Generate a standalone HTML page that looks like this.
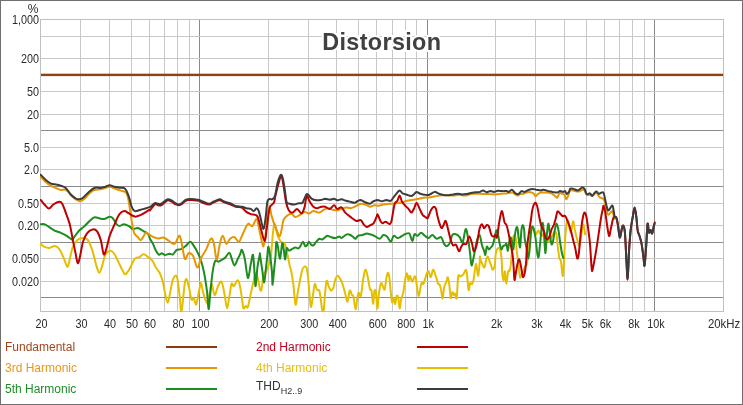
<!DOCTYPE html>
<html><head><meta charset="utf-8"><style>
html,body{margin:0;padding:0;background:#fff;width:743px;height:405px;overflow:hidden}
svg text{font-family:"Liberation Sans",sans-serif}
</style></head><body>
<svg width="743" height="405" viewBox="0 0 743 405" style="position:absolute;left:0;top:0">
<rect x="80" y="19" width="1" height="292" fill="#c8c8c8"/>
<rect x="109" y="19" width="1" height="292" fill="#c8c8c8"/>
<rect x="131" y="19" width="1" height="292" fill="#c8c8c8"/>
<rect x="149" y="19" width="1" height="292" fill="#c8c8c8"/>
<rect x="164" y="19" width="1" height="292" fill="#c8c8c8"/>
<rect x="177" y="19" width="1" height="292" fill="#c8c8c8"/>
<rect x="189" y="19" width="1" height="292" fill="#c8c8c8"/>
<rect x="199" y="19" width="1" height="292" fill="#8a8a8a"/>
<rect x="268" y="19" width="1" height="292" fill="#c8c8c8"/>
<rect x="308" y="19" width="1" height="292" fill="#c8c8c8"/>
<rect x="336" y="19" width="1" height="292" fill="#c8c8c8"/>
<rect x="358" y="19" width="1" height="292" fill="#c8c8c8"/>
<rect x="376" y="19" width="1" height="292" fill="#c8c8c8"/>
<rect x="392" y="19" width="1" height="292" fill="#c8c8c8"/>
<rect x="405" y="19" width="1" height="292" fill="#c8c8c8"/>
<rect x="416" y="19" width="1" height="292" fill="#c8c8c8"/>
<rect x="427" y="19" width="1" height="292" fill="#8a8a8a"/>
<rect x="495" y="19" width="1" height="292" fill="#c8c8c8"/>
<rect x="535" y="19" width="1" height="292" fill="#c8c8c8"/>
<rect x="564" y="19" width="1" height="292" fill="#c8c8c8"/>
<rect x="586" y="19" width="1" height="292" fill="#c8c8c8"/>
<rect x="604" y="19" width="1" height="292" fill="#c8c8c8"/>
<rect x="619" y="19" width="1" height="292" fill="#c8c8c8"/>
<rect x="632" y="19" width="1" height="292" fill="#c8c8c8"/>
<rect x="644" y="19" width="1" height="292" fill="#c8c8c8"/>
<rect x="654" y="19" width="1" height="292" fill="#8a8a8a"/>
<rect x="40" y="19" width="683" height="1" fill="#c8c8c8"/>
<rect x="40" y="36" width="683" height="1" fill="#c8c8c8"/>
<rect x="40" y="58" width="683" height="1" fill="#c8c8c8"/>
<rect x="40" y="75" width="683" height="1" fill="#8a8a8a"/>
<rect x="40" y="91" width="683" height="1" fill="#c8c8c8"/>
<rect x="40" y="114" width="683" height="1" fill="#c8c8c8"/>
<rect x="40" y="130" width="683" height="1" fill="#8a8a8a"/>
<rect x="40" y="147" width="683" height="1" fill="#c8c8c8"/>
<rect x="40" y="169" width="683" height="1" fill="#c8c8c8"/>
<rect x="40" y="186" width="683" height="1" fill="#8a8a8a"/>
<rect x="40" y="203" width="683" height="1" fill="#c8c8c8"/>
<rect x="40" y="225" width="683" height="1" fill="#c8c8c8"/>
<rect x="40" y="242" width="683" height="1" fill="#8a8a8a"/>
<rect x="40" y="258" width="683" height="1" fill="#c8c8c8"/>
<rect x="40" y="281" width="683" height="1" fill="#c8c8c8"/>
<rect x="40" y="297" width="683" height="1" fill="#8a8a8a"/>
<rect x="40" y="19" width="684" height="1" fill="#c0c0c0"/>
<rect x="40" y="311" width="684" height="1" fill="#c0c0c0"/>
<rect x="40" y="19" width="1" height="293" fill="#c0c0c0"/>
<rect x="723" y="19" width="1" height="293" fill="#c0c0c0"/>
<defs><clipPath id="pc"><rect x="40" y="19" width="684" height="293"/></clipPath></defs>
<g fill="none" stroke-linejoin="round" stroke-linecap="round" clip-path="url(#pc)">
<path d="M40.7,243.9C41.4,244.4 43.0,246.2 44.4,246.9C45.9,247.5 47.9,248.0 49.6,247.9C51.4,247.8 53.2,245.9 54.8,246.1C56.4,246.3 57.8,247.1 59.3,249.1C60.8,251.1 62.4,255.0 63.7,258.0C65.1,261.0 66.4,266.6 67.4,266.9C68.4,267.1 68.8,262.7 69.7,259.5C70.5,256.3 71.4,250.8 72.6,247.6C73.9,244.4 75.3,241.8 77.1,240.2C78.8,238.6 81.3,238.1 83.0,238.0C84.7,237.9 86.0,237.6 87.4,239.5C88.9,241.3 90.4,244.8 91.9,249.1C93.4,253.4 95.1,261.5 96.3,265.4C97.6,269.4 98.3,272.8 99.3,272.8C100.3,272.8 101.3,268.4 102.3,265.4C103.3,262.4 104.0,257.5 105.2,255.0C106.5,252.6 108.2,251.1 109.7,250.9C111.2,250.6 112.6,251.6 114.1,253.5C115.6,255.5 117.1,259.5 118.6,262.4C120.1,265.4 121.9,269.4 123.0,271.3C124.1,273.3 124.3,274.6 125.2,274.3C126.2,274.1 127.3,272.4 129.0,269.9C130.6,267.3 133.2,260.8 134.9,258.7C136.6,256.6 137.9,258.0 139.3,257.3C140.8,256.5 142.0,254.0 143.8,254.3C145.6,254.5 149.0,258.1 150.0,258.7C151.0,259.3 149.5,257.5 150.0,258.0C150.5,258.5 152.0,260.1 153.0,261.7C154.0,263.3 154.8,265.7 155.9,267.6C157.0,269.5 158.5,270.6 159.6,272.8C160.7,275.0 161.7,277.7 162.6,280.9C163.5,284.2 164.0,288.5 164.8,292.1C165.6,295.6 166.6,302.2 167.5,302.4C168.4,302.7 169.2,297.0 170.0,293.5C170.8,290.1 171.4,284.7 172.2,281.7C173.1,278.7 174.3,276.3 175.2,275.8C176.1,275.3 176.7,275.3 177.4,278.7C178.2,282.2 179.0,291.1 179.7,296.5C180.3,301.9 180.6,310.1 181.1,311.3C181.6,312.6 182.0,308.6 182.6,303.9C183.2,299.2 184.1,287.2 184.8,283.2C185.5,279.1 186.0,278.5 186.8,279.5C187.5,280.5 188.5,285.8 189.3,289.1C190.1,292.4 190.8,298.0 191.5,299.5C192.3,301.0 193.0,297.1 193.7,298.0C194.5,298.9 195.3,304.4 196.0,304.7C196.6,304.9 196.8,302.3 197.4,299.5C198.1,296.6 199.0,290.3 199.7,287.6C200.3,284.9 200.5,282.2 201.1,283.2C201.8,284.2 202.4,290.2 203.4,293.5C204.4,296.9 206.1,302.9 207.1,303.2C208.1,303.4 208.6,298.4 209.3,295.0C210.0,291.7 210.7,283.2 211.5,283.2C212.4,283.2 213.5,294.3 214.5,295.0C215.5,295.8 216.5,289.8 217.5,287.6C218.4,285.4 219.6,282.2 220.4,281.7C221.3,281.2 221.9,282.2 222.6,284.7C223.4,287.1 224.1,292.6 224.9,296.5C225.6,300.5 226.4,308.4 227.1,308.4C227.8,308.4 228.6,300.6 229.3,296.5C230.1,292.4 230.8,285.6 231.5,283.9C232.3,282.2 232.8,286.8 233.8,286.1C234.8,285.5 236.5,280.5 237.5,280.2C238.5,280.0 239.0,281.7 239.7,284.7C240.4,287.6 241.3,294.0 241.9,298.0C242.5,301.9 242.8,307.0 243.4,308.4C244.0,309.7 244.9,306.4 245.6,306.1C246.4,305.9 247.0,309.0 247.9,306.9C248.7,304.8 249.8,298.0 250.8,293.5C251.8,289.1 252.9,283.7 253.8,280.2C254.6,276.7 255.3,272.8 256.0,272.8C256.7,272.8 257.6,277.5 258.2,280.2C258.9,282.9 259.5,287.5 260.0,289.1C260.5,290.7 261.0,291.6 261.5,289.8C262.0,288.1 262.5,281.6 263.0,278.7C263.5,275.9 264.0,273.9 264.4,272.8C264.9,271.7 265.3,273.0 265.9,272.0C266.5,271.1 267.5,268.7 268.2,266.9C268.8,265.0 269.1,262.9 269.6,260.9C270.1,259.0 270.8,256.8 271.1,255.0C271.4,253.2 271.0,255.2 271.5,250.0C272.0,244.9 273.2,226.6 274.2,224.2C275.2,221.8 276.4,232.7 277.6,235.8C278.9,238.8 280.4,241.1 281.7,242.6C283.0,244.0 283.9,240.8 285.2,244.7C286.5,248.5 288.7,261.1 289.7,265.4C290.6,269.7 290.5,267.4 291.1,270.6C291.8,273.8 292.6,279.0 293.4,284.7C294.1,290.3 294.8,303.4 295.6,304.7C296.3,305.9 297.1,296.1 297.8,292.1C298.5,288.0 299.3,283.9 300.0,280.2C300.8,276.5 301.5,272.1 302.3,269.8C303.0,267.6 303.7,266.8 304.5,266.6C305.2,266.3 306.1,266.3 306.7,268.3C307.3,270.4 307.7,274.0 308.2,278.7C308.7,283.4 309.2,291.8 309.7,296.5C310.2,301.2 310.5,307.6 311.1,306.9C311.8,306.1 312.8,295.9 313.4,292.1C314.0,288.2 314.2,284.3 314.9,283.9C315.5,283.5 316.3,288.7 317.1,289.8C317.8,291.0 318.7,289.0 319.3,290.6C319.9,292.2 320.3,296.1 320.8,299.5C321.3,302.8 321.8,308.9 322.3,310.6C322.8,312.3 323.3,312.9 323.8,309.9C324.2,306.8 324.7,296.9 325.2,292.1C325.7,287.2 326.1,281.8 326.7,280.9C327.3,280.1 328.2,285.3 328.9,286.9C329.7,288.5 330.4,290.5 331.2,290.6C331.9,290.7 332.6,289.6 333.4,287.6C334.1,285.6 334.9,280.7 335.6,278.7C336.4,276.7 337.1,275.8 337.8,275.8C338.6,275.8 339.3,277.5 340.1,278.7C340.8,280.0 341.4,280.7 342.3,283.2C343.1,285.6 344.4,290.5 345.2,293.5C346.1,296.6 346.7,302.2 347.5,301.7C348.2,301.2 349.0,291.7 349.7,290.6C350.4,289.5 351.3,294.0 351.9,295.0C352.5,296.0 352.8,294.2 353.4,296.5C354.0,298.9 355.0,308.6 355.6,309.1C356.2,309.6 356.6,302.2 357.1,299.5C357.6,296.8 358.0,293.4 358.6,292.8C359.2,292.2 360.1,297.9 360.8,295.8C361.6,293.7 362.3,284.5 363.0,280.2C363.8,275.9 364.5,270.6 365.3,269.8C366.0,269.1 366.7,272.5 367.5,275.8C368.3,279.0 369.3,286.6 370.0,289.1C370.7,291.6 371.0,288.1 371.5,290.6C372.0,293.1 372.5,303.8 373.0,303.9C373.5,304.0 374.0,293.3 374.4,291.3C374.9,289.3 375.4,289.2 375.9,292.1C376.4,294.9 376.9,308.1 377.4,308.4C377.9,308.6 378.3,297.7 378.9,293.5C379.5,289.3 380.4,284.2 381.1,283.2C381.9,282.2 382.7,286.6 383.3,287.6C384.0,288.6 384.3,290.6 384.8,289.1C385.3,287.6 385.8,281.4 386.3,278.7C386.8,276.0 387.3,273.0 387.8,272.8C388.3,272.5 388.8,274.0 389.3,277.2C389.8,280.5 390.3,287.9 390.8,292.1C391.3,296.3 391.7,301.5 392.2,302.4C392.7,303.4 393.2,297.7 393.7,298.0C394.2,298.2 394.7,304.3 395.2,303.9C395.7,303.6 396.2,296.8 396.7,295.8C397.2,294.8 397.7,295.9 398.2,298.0C398.7,300.1 399.2,308.1 399.7,308.4C400.1,308.6 400.5,302.2 401.1,299.5C401.8,296.8 402.6,295.8 403.4,292.1C404.1,288.4 405.0,280.3 405.6,277.2C406.2,274.1 406.6,273.0 407.1,273.5C407.6,274.0 408.1,279.8 408.5,280.2C409.0,280.6 409.4,275.5 410.0,275.8C410.6,276.0 411.5,281.6 412.3,281.7C413.0,281.8 413.9,277.0 414.5,276.5C415.1,276.0 415.5,276.4 416.0,278.7C416.5,281.1 416.9,287.7 417.4,290.6C417.9,293.4 418.4,296.3 418.9,295.8C419.4,295.3 419.9,289.8 420.4,287.6C420.9,285.4 421.4,283.0 421.9,282.4C422.4,281.8 422.8,284.8 423.4,283.9C424.0,283.0 425.0,279.1 425.6,277.2C426.2,275.4 426.6,273.8 427.1,272.8C427.6,271.8 427.9,270.6 428.6,271.3C429.2,272.0 430.0,277.5 430.8,277.2C431.5,277.0 432.3,270.3 433.0,269.8C433.8,269.3 434.4,271.9 435.2,274.3C436.1,276.6 437.5,282.2 438.2,283.9C438.9,285.6 439.2,283.5 439.7,284.7C440.2,285.8 440.7,288.2 441.2,290.6C441.7,292.9 442.2,299.2 442.6,298.7C443.1,298.2 443.5,290.5 444.1,287.6C444.7,284.8 445.7,283.4 446.4,281.7C447.0,280.0 447.3,276.7 447.8,277.2C448.3,277.7 448.8,281.2 449.3,284.7C449.8,288.1 450.3,296.8 450.8,298.0C451.3,299.2 451.8,292.6 452.3,292.1C452.8,291.6 453.3,294.8 453.8,295.0C454.3,295.3 454.8,293.1 455.2,293.5C455.7,294.0 456.2,300.8 456.7,298.0C457.2,295.2 457.6,280.1 458.2,276.5C458.8,272.9 459.6,276.9 460.4,276.5C461.3,276.1 462.4,275.3 463.4,274.3C464.4,273.3 465.5,268.0 466.4,270.6C467.2,273.2 468.0,287.7 468.6,289.8C469.2,291.9 469.5,284.2 470.1,283.2C470.7,282.2 471.7,284.7 472.3,283.9C472.9,283.2 473.2,282.1 473.8,278.7C474.4,275.4 475.3,264.4 476.0,263.9C476.7,263.4 477.6,276.7 478.2,275.8C478.9,274.8 479.7,260.9 480.0,258.0C480.3,255.0 479.6,257.0 480.0,258.0C480.4,259.0 481.5,262.3 482.2,263.9C482.9,265.5 483.8,268.1 484.4,267.6C485.0,267.1 485.4,262.8 485.9,260.9C486.4,259.0 486.9,256.8 487.4,256.5C487.9,256.2 488.3,257.9 488.9,259.4C489.5,260.9 490.5,263.7 491.1,265.4C491.7,267.1 492.0,269.8 492.6,269.8C493.2,269.8 494.3,267.9 494.8,265.4C495.3,262.9 495.2,257.5 495.6,254.8C496.0,252.1 496.4,250.5 497.0,249.4C497.6,248.3 498.4,247.8 499.0,248.0C499.6,248.2 499.9,248.8 500.4,250.8C500.8,252.9 501.4,256.6 501.7,260.3C502.0,264.0 501.9,269.5 502.2,272.8C502.5,276.1 503.2,280.4 503.7,280.2C504.1,279.9 504.4,270.7 504.9,271.3C505.3,271.9 505.8,283.9 506.4,283.9C506.9,283.9 507.6,273.5 508.2,271.3C508.8,269.1 509.2,272.1 509.7,270.6C510.2,269.1 510.6,267.5 511.1,262.4C511.6,257.3 512.0,244.4 512.6,239.9C513.2,235.4 514.0,235.1 514.6,235.1C515.2,235.1 515.6,237.3 516.0,239.9C516.4,242.5 516.3,246.8 516.7,250.8C517.1,254.8 518.0,259.5 518.5,263.9C519.0,268.3 519.5,275.5 520.0,277.2C520.5,278.9 520.9,275.5 521.5,274.3C522.1,273.1 522.8,271.4 523.5,270.0C524.2,268.6 524.9,267.1 525.5,266.0C526.1,264.9 526.4,265.8 526.9,263.7C527.4,261.6 527.6,257.9 528.2,253.5C528.8,249.1 529.7,241.7 530.3,237.2C530.9,232.7 531.1,227.7 531.6,226.3C532.1,224.9 532.6,228.1 533.0,229.0C533.4,229.9 533.6,230.8 534.1,231.7C534.6,232.6 535.4,234.7 536.1,234.5C536.8,234.3 537.5,230.5 538.2,230.4C538.9,230.3 539.5,232.9 540.2,233.8C540.9,234.7 541.5,236.0 542.2,235.8C542.9,235.6 543.6,232.4 544.3,232.4C545.0,232.4 545.6,234.3 546.3,235.8C547.0,237.3 547.6,240.9 548.3,241.3C549.0,241.8 549.7,239.4 550.4,238.5C551.1,237.6 551.7,236.9 552.4,235.8C553.1,234.7 553.8,231.9 554.5,231.7C555.2,231.5 556.0,231.9 556.5,234.5C557.0,237.1 557.3,243.1 557.8,247.1C558.3,251.1 558.9,255.9 559.4,258.3C559.9,260.7 560.5,258.6 561.0,261.5C561.5,264.4 562.2,275.7 562.7,276.0C563.2,276.3 563.5,269.3 563.9,263.2C564.3,257.1 564.6,245.8 565.1,239.1C565.6,232.4 566.2,225.9 566.7,223.0C567.2,220.1 567.6,219.8 568.3,221.4C569.0,223.0 569.9,232.7 570.7,232.7C571.5,232.7 572.4,221.9 573.1,221.4C573.8,220.9 574.0,226.5 574.7,229.4C575.4,232.3 576.3,236.4 577.1,239.1C577.9,241.8 578.7,246.8 579.5,245.5C580.3,244.2 581.2,234.5 581.9,231.0C582.6,227.5 583.0,224.0 583.5,224.6C584.0,225.2 584.8,232.7 585.1,234.3" stroke="#e6be00" stroke-width="2"/>
<path d="M40.7,224.2C41.4,224.2 43.1,223.7 44.4,224.2C45.8,224.6 47.3,225.8 48.9,226.9C50.5,227.9 52.1,229.3 54.1,230.3C56.1,231.3 58.7,231.9 60.8,232.8C62.9,233.7 64.8,234.6 66.7,235.8C68.5,236.9 70.6,239.2 71.9,239.5C73.1,239.7 73.0,238.6 74.1,237.2C75.2,235.9 76.8,233.2 78.5,231.3C80.3,229.5 82.5,228.0 84.5,226.1C86.5,224.3 88.7,221.7 90.4,220.2C92.1,218.7 93.1,217.5 94.9,217.2C96.6,217.0 99.1,218.5 100.8,218.7C102.5,219.0 103.8,219.0 105.2,218.7C106.7,218.4 108.4,216.9 109.7,216.8C110.9,216.7 111.5,216.8 112.6,218.0C113.8,219.2 115.2,222.5 116.4,223.9C117.5,225.3 118.1,226.1 119.3,226.1C120.6,226.2 122.2,224.2 123.8,224.2C125.4,224.2 127.5,225.3 129.0,226.1C130.4,226.9 131.2,228.8 132.7,229.1C134.1,229.4 136.0,227.7 137.9,228.0C139.7,228.4 142.1,230.3 143.8,231.3C145.5,232.3 147.2,233.0 148.2,234.3C149.3,235.5 149.2,237.1 150.0,238.7C150.8,240.3 152.0,241.9 153.0,243.9C154.0,245.9 154.9,248.8 155.9,250.6C156.9,252.4 157.9,254.3 158.9,254.7C159.9,255.2 160.9,253.2 161.9,253.3C162.8,253.3 163.6,254.9 164.8,255.0C166.1,255.1 167.9,254.0 169.3,253.8C170.6,253.7 171.7,255.0 173.0,254.3C174.2,253.6 175.3,250.7 176.7,249.8C178.0,249.0 179.7,249.7 181.1,249.1C182.6,248.5 184.1,247.4 185.6,246.1C187.1,244.9 188.8,241.9 190.0,241.7C191.3,241.4 191.8,242.9 193.0,244.7C194.2,246.4 196.1,249.3 197.4,252.1C198.8,254.8 200.0,257.5 201.1,261.0C202.3,264.4 203.1,267.6 204.1,272.8C205.1,278.0 206.3,286.0 207.1,292.1C207.8,298.1 208.1,308.4 208.6,309.1C209.1,309.9 209.4,302.3 210.0,296.5C210.7,290.7 211.4,280.2 212.3,274.3C213.1,268.3 214.2,263.0 215.2,260.9C216.2,258.8 217.0,261.9 218.2,261.7C219.4,261.4 221.4,260.2 222.6,259.4C223.9,258.7 224.5,258.3 225.6,257.2C226.7,256.1 228.3,252.7 229.3,252.8C230.3,252.9 230.7,255.9 231.5,258.0C232.4,260.1 233.5,265.2 234.5,265.4C235.5,265.7 236.5,261.5 237.5,259.5C238.5,257.5 239.7,255.2 240.4,253.5C241.2,251.9 241.2,248.9 241.9,249.8C242.7,250.8 243.9,254.8 244.9,259.5C245.9,264.2 246.9,277.2 247.9,278.0C248.8,278.7 250.0,267.7 250.8,263.9C251.7,260.1 252.4,253.5 253.0,255.0C253.7,256.5 254.1,267.6 254.5,272.8C254.9,278.0 255.1,287.1 255.6,286.1C256.1,285.1 256.8,272.0 257.5,266.9C258.2,261.7 259.3,257.0 259.7,255.0C260.1,253.0 259.6,252.5 260.0,255.0C260.4,257.5 261.5,265.3 262.2,269.8C262.9,274.4 263.5,282.7 264.2,282.4C264.8,282.2 265.4,272.9 265.9,268.3C266.5,263.8 267.0,258.6 267.4,255.0C267.8,251.4 267.8,247.4 268.2,246.9C268.5,246.4 269.0,248.0 269.6,252.1C270.3,256.1 271.4,265.9 271.9,271.3C272.4,276.8 272.2,284.9 272.6,284.7C273.0,284.4 273.6,274.8 274.1,269.8C274.6,264.9 275.2,259.6 275.6,255.0C275.9,250.4 275.9,243.9 276.3,242.4C276.7,241.0 277.2,243.4 277.8,246.1C278.4,248.9 279.3,259.2 280.0,258.7C280.8,258.2 281.6,244.8 282.2,243.2C282.9,241.6 283.2,246.4 283.7,249.1C284.2,251.8 284.7,259.6 285.2,259.5C285.7,259.4 286.1,249.8 286.7,248.4C287.3,246.9 288.0,250.5 288.9,250.6C289.8,250.7 290.8,249.6 291.9,249.1C293.0,248.6 294.5,247.7 295.6,247.6C296.7,247.5 297.7,248.7 298.5,248.4C299.4,248.0 300.0,246.5 300.8,245.4C301.5,244.3 302.3,241.6 303.0,241.7C303.7,241.8 304.5,245.6 305.2,246.1C306.0,246.6 306.8,245.4 307.4,244.7C308.1,243.9 308.3,241.7 308.9,241.7C309.5,241.7 310.4,244.0 311.1,244.7C311.9,245.3 312.5,245.9 313.4,245.4C314.2,244.9 315.3,242.8 316.3,241.7C317.3,240.6 318.3,239.1 319.3,238.7C320.3,238.4 321.3,239.7 322.3,239.5C323.3,239.2 324.4,237.9 325.2,237.2C326.1,236.6 326.5,235.8 327.5,235.8C328.4,235.8 329.8,236.9 331.2,237.2C332.5,237.6 334.3,238.1 335.6,238.0C337.0,237.9 338.3,236.5 339.3,236.5C340.3,236.5 340.7,238.1 341.5,238.0C342.4,237.9 343.5,236.4 344.5,235.8C345.5,235.1 346.5,234.4 347.5,234.3C348.5,234.1 349.4,234.5 350.4,235.0C351.4,235.5 352.5,236.6 353.4,237.2C354.3,237.9 354.9,239.0 355.6,238.7C356.4,238.5 356.7,236.4 357.9,235.8C359.0,235.1 360.8,235.4 362.3,235.0C363.8,234.6 365.5,233.7 366.7,233.5C368.0,233.4 368.7,233.9 370.0,234.3C371.3,234.6 372.8,235.0 374.4,235.8C376.1,236.5 378.2,238.8 379.6,238.7C381.1,238.6 382.1,235.4 383.3,235.0C384.6,234.6 385.8,235.4 387.0,236.5C388.3,237.6 389.6,241.8 390.8,241.7C391.9,241.6 392.6,236.4 393.7,235.8C394.8,235.1 396.2,237.9 397.4,238.0C398.7,238.1 399.9,237.1 401.1,236.5C402.4,235.9 403.5,234.8 404.8,234.3C406.2,233.8 408.1,232.4 409.3,233.5C410.5,234.6 411.4,240.8 412.3,240.9C413.1,241.1 413.6,235.1 414.5,234.3C415.3,233.4 416.3,236.0 417.4,235.8C418.6,235.5 419.9,232.8 421.1,232.8C422.4,232.8 423.6,234.9 424.9,235.8C426.1,236.6 427.3,238.1 428.6,238.0C429.8,237.9 430.9,234.9 432.3,235.0C433.6,235.1 435.2,238.4 436.7,238.7C438.2,239.1 439.9,236.4 441.2,237.2C442.4,238.1 443.1,242.4 444.1,243.9C445.1,245.4 446.1,246.4 447.1,246.1C448.1,245.9 449.2,244.3 450.1,242.4C450.9,240.6 451.3,236.4 452.3,235.0C453.3,233.7 454.8,233.9 456.0,234.3C457.2,234.6 458.6,235.9 459.7,237.2C460.8,238.6 461.7,243.8 462.7,242.4C463.6,241.1 464.8,229.9 465.6,229.1C466.5,228.2 467.1,233.2 467.9,237.2C468.6,241.3 469.5,248.9 470.1,253.5C470.7,258.2 470.9,264.9 471.6,265.4C472.2,265.9 473.0,260.0 473.8,256.5C474.5,253.1 475.3,248.0 476.0,244.7C476.7,241.3 477.6,238.0 478.2,236.5C478.9,235.0 479.4,234.3 480.0,235.8C480.6,237.2 481.3,242.8 482.0,245.3C482.7,247.8 483.5,249.2 484.1,250.8C484.7,252.4 484.9,255.5 485.4,254.8C485.8,254.1 486.2,247.6 486.8,246.7C487.4,245.8 488.1,249.3 488.8,249.4C489.5,249.5 490.2,248.2 490.9,247.4C491.6,246.6 492.2,246.5 492.9,244.6C493.6,242.7 494.4,238.2 495.0,235.8C495.6,233.4 495.9,230.9 496.3,230.4C496.8,229.9 497.2,231.5 497.7,233.1C498.1,234.7 498.6,237.6 499.0,239.9C499.4,242.2 499.9,245.1 500.4,246.7C500.8,248.3 501.2,249.5 501.7,249.4C502.1,249.3 502.5,246.7 503.1,246.0C503.7,245.3 504.5,245.6 505.1,245.3C505.7,245.0 506.0,243.1 506.5,244.0C507.0,244.9 507.4,251.2 507.9,250.8C508.3,250.5 508.8,244.2 509.2,241.9C509.6,239.6 510.2,237.3 510.6,237.2C511.1,237.1 511.4,239.3 511.9,241.3C512.3,243.3 512.8,250.1 513.3,249.4C513.8,248.7 514.1,240.6 514.6,237.2C515.1,233.8 515.5,230.6 516.0,229.0C516.5,227.4 516.9,226.1 517.4,227.7C517.9,229.3 518.2,235.2 518.7,238.5C519.2,241.8 519.7,248.8 520.1,247.4C520.5,246.1 521.0,234.1 521.4,230.4C521.8,226.7 522.3,225.0 522.8,225.0C523.3,225.0 523.9,228.0 524.2,230.4C524.5,232.8 524.3,235.9 524.8,239.2C525.2,242.5 526.3,246.8 526.9,250.0C527.5,253.2 527.8,258.7 528.2,258.7C528.7,258.7 529.1,254.9 529.6,250.0C530.1,245.1 530.8,232.7 531.4,229.0C532.0,225.3 532.7,226.3 533.4,227.7C534.1,229.1 534.7,232.7 535.4,237.2C536.1,241.7 536.9,251.6 537.5,254.8C538.1,258.0 538.3,258.2 538.8,256.2C539.2,254.2 539.6,248.0 540.2,242.6C540.8,237.2 541.6,225.9 542.2,223.6C542.8,221.3 543.2,224.9 543.6,229.0C544.0,233.1 544.6,244.2 544.9,248.0C545.2,251.8 545.2,254.6 545.6,252.1C546.0,249.6 546.5,237.8 547.0,233.1C547.5,228.3 547.8,223.8 548.3,223.6C548.8,223.4 549.2,228.6 549.7,232.0C550.2,235.4 550.9,242.3 551.4,243.9C551.9,245.5 552.5,243.7 553.0,241.5C553.5,239.3 554.0,234.0 554.6,231.0C555.2,228.0 555.9,223.7 556.5,223.6C557.1,223.5 557.9,227.0 558.5,230.4C559.1,233.8 559.8,240.2 560.4,244.0C561.0,247.8 561.5,251.2 562.0,253.5C562.5,255.8 563.1,257.2 563.3,258.0" stroke="#1e8c1e" stroke-width="2"/>
<path d="M40.7,177.0C41.6,177.9 44.2,180.8 45.9,182.2C47.7,183.7 49.4,185.0 51.1,185.9C52.8,186.9 54.7,187.5 56.3,188.2C57.9,188.8 59.3,189.7 60.8,189.9C62.2,190.2 64.0,189.3 65.2,189.7C66.4,190.0 67.2,190.9 68.2,191.9C69.2,192.9 69.9,194.3 71.1,195.6C72.4,196.8 74.1,198.3 75.6,199.3C77.1,200.2 78.5,201.3 80.0,201.2C81.5,201.1 83.0,200.0 84.5,198.8C86.0,197.7 87.4,195.5 88.9,194.1C90.4,192.7 91.6,191.2 93.4,190.4C95.1,189.6 97.6,189.5 99.3,189.2C101.0,188.9 102.0,188.9 103.8,188.5C105.5,188.0 108.0,186.7 109.7,186.7C111.4,186.6 112.4,187.6 114.1,188.2C115.9,188.8 118.2,189.8 120.1,190.4C121.9,191.0 124.0,191.0 125.2,191.9C126.5,192.7 126.9,193.7 127.5,195.6C128.1,197.4 128.5,200.3 129.0,203.0C129.4,205.7 129.9,208.7 130.4,211.9C130.9,215.1 131.3,218.9 131.9,222.4C132.5,225.9 133.2,230.3 134.1,232.8C135.1,235.3 136.7,236.0 137.9,237.2C139.0,238.5 139.8,240.5 140.8,240.2C141.8,240.0 142.9,237.0 143.8,235.8C144.6,234.5 145.0,232.9 146.0,232.8C147.0,232.7 148.7,234.3 150.0,235.0C151.3,235.8 152.3,236.7 153.7,237.2C155.1,237.8 156.5,238.4 158.2,238.4C159.8,238.5 161.6,237.2 163.3,237.5C165.1,237.9 166.9,239.4 168.5,240.5C170.1,241.6 171.7,243.6 173.0,243.9C174.2,244.2 175.0,243.8 175.9,242.4C176.9,241.1 178.0,236.1 178.9,235.8C179.8,235.4 180.1,236.4 181.1,240.2C182.1,244.0 183.6,256.6 184.8,258.7C186.1,260.9 187.2,253.7 188.5,253.3C189.9,252.8 191.5,253.4 193.0,255.8C194.5,258.2 196.1,267.3 197.4,267.6C198.8,268.0 199.7,261.1 201.1,258.0C202.6,254.9 204.7,252.3 206.3,249.1C207.9,245.9 209.6,239.7 210.8,238.7C212.0,237.7 212.8,239.7 213.8,243.2C214.7,246.6 215.7,259.2 216.7,259.5C217.7,259.7 218.7,248.6 219.7,244.7C220.7,240.7 221.5,235.9 222.6,235.8C223.8,235.6 225.1,243.4 226.4,243.9C227.6,244.4 228.7,239.8 230.1,238.7C231.4,237.6 233.0,236.7 234.5,237.2C236.0,237.7 237.6,242.2 239.0,241.7C240.3,241.2 241.2,237.2 242.7,234.3C244.1,231.3 246.2,225.3 247.9,223.9C249.5,222.5 250.8,227.0 252.3,226.1C253.7,225.3 255.5,218.8 256.5,218.8C257.6,218.8 257.9,223.4 258.6,226.2C259.3,229.1 259.8,232.4 260.6,235.8C261.4,239.2 262.5,246.6 263.3,246.6C264.1,246.6 264.7,241.0 265.4,235.8C266.1,230.6 266.7,220.2 267.4,215.4C268.1,210.5 268.8,206.5 269.5,206.5C270.1,206.5 270.8,212.8 271.5,215.4C272.2,218.0 272.7,219.9 273.5,222.2C274.3,224.4 275.2,226.6 276.2,229.0C277.3,231.3 278.7,236.4 279.6,236.4C280.6,236.4 281.0,231.8 281.7,229.0C282.4,226.1 282.6,221.8 283.7,219.5C284.8,217.1 286.8,215.7 288.2,214.9C289.5,214.0 290.6,213.7 291.9,214.1C293.1,214.5 294.2,217.0 295.6,217.1C296.9,217.2 298.5,215.7 300.0,214.9C301.5,214.0 303.0,212.1 304.5,211.9C306.0,211.6 307.4,213.5 308.9,213.4C310.4,213.2 311.6,211.3 313.4,211.1C315.1,211.0 317.6,212.9 319.3,212.6C321.0,212.4 322.3,210.4 323.8,209.7C325.2,208.9 326.7,208.2 328.2,208.2C329.7,208.2 331.2,209.3 332.6,209.7C334.1,210.0 335.6,210.5 337.1,210.4C338.6,210.3 340.1,209.4 341.5,208.9C343.0,208.4 344.5,207.6 346.0,207.4C347.5,207.3 349.0,208.3 350.4,208.2C351.9,208.1 353.2,207.4 354.9,206.7C356.6,206.0 359.1,204.1 360.8,203.7C362.5,203.4 363.7,204.0 365.3,204.5C366.8,205.0 368.5,206.6 370.0,206.7C371.5,206.8 373.0,205.4 374.4,205.2C375.9,205.0 377.4,205.8 378.9,205.7C380.4,205.5 381.9,204.8 383.3,204.5C384.8,204.2 386.3,204.0 387.8,203.9C389.3,203.8 390.5,203.9 392.2,203.7C394.0,203.6 396.4,203.2 398.2,203.0C399.9,202.7 401.1,202.6 402.6,202.3C404.1,201.9 405.3,201.2 407.1,200.8C408.8,200.4 411.0,200.1 413.0,199.7C415.0,199.4 417.2,199.2 418.9,198.8C420.7,198.5 421.6,198.1 423.4,197.8C425.1,197.6 427.3,197.6 429.3,197.4C431.3,197.1 433.3,196.7 435.2,196.3C437.2,196.0 439.2,195.5 441.2,195.3C443.1,195.1 445.1,195.2 447.1,195.3C449.1,195.3 451.0,195.7 453.0,195.6C455.0,195.5 457.0,194.8 459.0,194.8C460.9,194.8 462.9,195.7 464.9,195.6C466.9,195.5 469.1,194.4 470.8,194.1C472.5,193.8 473.7,193.9 475.3,193.8C476.8,193.8 478.5,193.8 480.0,193.8C481.5,193.9 483.0,194.0 484.4,194.1C485.9,194.1 487.2,194.0 488.9,194.1C490.6,194.1 492.8,194.4 494.8,194.4C496.8,194.3 498.8,194.0 500.8,193.8C502.7,193.6 504.7,193.6 506.7,193.4C508.7,193.2 510.9,192.2 512.6,192.6C514.3,193.0 515.8,195.3 517.1,195.6C518.3,195.8 518.8,194.5 520.0,194.1C521.3,193.7 523.0,193.7 524.5,193.4C526.0,193.0 527.4,191.9 528.9,191.9C530.4,191.9 532.3,192.6 533.4,193.4C534.5,194.1 534.9,196.2 535.6,196.3C536.3,196.4 537.0,194.7 537.8,194.1C538.7,193.5 539.6,192.9 540.8,192.6C542.0,192.4 543.5,192.5 545.2,192.6C547.0,192.7 549.7,192.9 551.2,193.4C552.6,193.8 553.1,194.5 554.1,195.3C555.1,196.0 556.2,198.1 557.1,197.8C558.0,197.5 558.6,194.1 559.3,193.4C560.1,192.6 560.7,193.1 561.5,193.4C562.4,193.6 563.7,193.9 564.5,194.8C565.3,195.8 565.7,199.2 566.3,199.3C566.9,199.4 567.5,197.1 568.2,195.6C568.9,194.1 569.3,191.1 570.4,190.4C571.5,189.7 573.4,191.0 574.9,191.1C576.4,191.3 578.1,191.7 579.3,191.4C580.6,191.2 581.4,189.8 582.3,189.7C583.2,189.5 583.8,189.5 584.5,190.4C585.3,191.3 585.8,194.1 586.7,194.8C587.7,195.6 589.1,194.6 590.0,194.8C590.9,195.0 591.5,196.1 592.2,196.0C592.9,195.9 593.8,194.5 594.5,194.0C595.2,193.5 595.9,192.5 596.6,192.8C597.3,193.1 598.1,195.2 598.7,196.0C599.3,196.8 599.5,197.3 600.2,197.7C600.9,198.1 602.0,197.9 602.7,198.5C603.4,199.1 604.0,199.4 604.5,201.0C605.0,202.6 605.4,206.0 605.9,208.1C606.4,210.2 607.0,212.6 607.5,213.7C608.0,214.8 608.4,214.9 609.1,214.5C609.8,214.1 610.9,211.6 611.5,211.3C612.1,211.0 612.5,211.6 613.0,212.9C613.5,214.2 614.0,218.0 614.2,219.0" stroke="#e69600" stroke-width="2"/>
<path d="M40.7,200.0C41.4,200.8 43.1,203.0 44.4,204.5C45.8,205.9 47.4,208.6 48.9,208.6C50.4,208.6 51.6,205.6 53.3,204.5C55.1,203.3 57.8,201.9 59.3,201.8C60.8,201.7 61.3,202.2 62.2,203.7C63.2,205.3 64.0,207.8 65.2,211.1C66.4,214.5 68.4,219.3 69.7,223.9C70.9,228.5 71.6,233.8 72.6,238.7C73.6,243.7 74.7,249.5 75.6,253.5C76.4,257.6 77.1,262.7 77.8,263.2C78.5,263.7 79.2,260.1 80.0,256.5C80.9,252.9 81.8,245.6 83.0,241.7C84.2,237.7 85.8,234.8 87.4,232.8C89.0,230.7 91.0,229.6 92.6,229.4C94.2,229.1 95.7,229.5 97.1,231.3C98.4,233.1 99.7,236.4 100.8,240.2C101.9,244.0 102.8,253.1 103.8,254.3C104.7,255.5 105.7,250.7 106.7,247.6C107.7,244.5 108.4,239.5 109.7,235.8C110.9,232.0 113.0,228.0 114.1,225.4C115.2,222.8 115.4,222.0 116.4,220.0C117.3,218.0 118.7,214.9 120.1,213.4C121.4,211.9 123.0,211.1 124.5,211.1C126.0,211.1 127.2,212.5 129.0,213.4C130.7,214.3 132.9,216.4 134.9,216.6C136.9,216.9 138.3,216.0 140.8,214.9C143.3,213.7 148.2,210.4 149.7,209.7C151.2,208.9 149.6,210.8 150.0,210.4C150.4,210.0 151.4,208.5 152.2,207.4C153.1,206.4 154.2,204.6 155.2,204.2C156.2,203.8 157.2,205.0 158.2,205.2C159.1,205.4 160.1,205.6 161.1,205.2C162.1,204.8 163.0,203.8 164.1,203.0C165.2,202.2 166.6,200.6 167.8,200.3C169.0,200.1 170.3,200.9 171.5,201.5C172.7,202.2 174.0,203.6 175.2,204.2C176.4,204.8 177.8,205.2 178.9,205.2C180.0,205.2 180.8,204.8 181.9,204.0C183.0,203.3 184.2,201.5 185.6,200.8C186.9,200.1 188.5,199.8 190.0,199.7C191.5,199.7 193.0,200.2 194.5,200.3C196.0,200.5 197.4,200.3 198.9,200.8C200.4,201.2 201.6,202.4 203.4,203.0C205.1,203.6 207.6,204.6 209.3,204.5C211.0,204.4 212.0,202.9 213.8,202.3C215.5,201.6 218.0,200.3 219.7,200.3C221.4,200.3 222.4,201.6 224.1,202.3C225.9,202.9 228.1,203.4 230.1,204.2C232.0,204.9 234.0,206.1 236.0,206.7C238.0,207.3 240.2,206.9 241.9,207.7C243.6,208.6 244.9,210.8 246.4,211.9C247.9,213.0 249.1,213.5 250.8,214.1C252.5,214.7 255.3,214.5 256.5,215.4C257.8,216.3 257.8,217.0 258.6,219.5C259.4,221.9 260.3,226.7 261.3,230.3C262.3,233.9 263.8,241.4 264.7,241.2C265.6,241.0 265.9,234.4 266.7,229.0C267.5,223.5 268.6,212.7 269.5,208.6C270.4,204.5 271.4,205.6 272.2,204.5C273.0,203.4 273.6,203.4 274.2,201.8C274.8,200.2 274.7,198.5 275.6,195.0C276.4,191.5 278.3,184.0 279.3,180.8C280.3,177.5 280.8,174.6 281.5,175.6C282.2,176.6 283.0,182.4 283.7,186.7C284.5,191.0 285.1,197.6 285.9,201.5C286.8,205.5 287.8,208.6 288.9,210.4C290.0,212.3 291.3,212.9 292.6,212.6C294.0,212.4 295.6,208.8 297.1,208.9C298.5,209.0 300.3,213.6 301.5,213.4C302.7,213.1 303.6,210.3 304.5,207.4C305.3,204.6 305.8,197.3 306.7,196.3C307.6,195.3 308.6,199.8 309.7,201.5C310.8,203.2 312.1,205.6 313.4,206.7C314.6,207.8 315.7,208.2 317.1,208.2C318.4,208.2 320.2,206.9 321.5,206.7C322.9,206.5 323.9,206.3 325.2,206.7C326.6,207.1 328.2,209.2 329.7,208.9C331.2,208.7 332.9,205.2 334.1,205.2C335.4,205.2 335.9,208.6 337.1,208.9C338.3,209.3 340.2,206.8 341.5,207.4C342.9,208.1 343.5,210.9 345.2,212.6C347.0,214.4 350.1,216.6 351.9,218.0C353.8,219.3 354.9,220.6 356.4,220.9C357.9,221.3 359.6,219.6 360.8,220.2C362.1,220.8 362.8,223.5 363.8,224.6C364.8,225.7 365.7,226.7 366.7,226.9C367.8,227.0 368.8,226.0 370.0,225.4C371.2,224.8 372.6,224.6 373.7,223.2C374.8,221.7 376.0,217.9 376.7,216.5C377.3,215.1 377.1,213.8 377.7,214.6C378.3,215.3 379.6,219.5 380.4,220.9C381.2,222.4 381.7,223.0 382.6,223.2C383.5,223.3 384.5,221.5 385.6,221.7C386.7,221.8 388.3,224.0 389.3,223.9C390.3,223.8 390.6,224.2 391.5,220.9C392.4,217.7 393.5,207.8 394.5,204.5C395.5,201.1 396.6,202.3 397.4,200.8C398.3,199.3 398.9,195.5 399.7,195.6C400.4,195.7 401.0,199.9 401.9,201.5C402.7,203.1 403.7,204.0 404.8,205.2C406.0,206.5 407.4,207.7 408.5,208.9C409.7,210.2 410.5,212.9 411.5,212.6C412.5,212.4 413.6,209.0 414.5,207.4C415.3,205.8 415.8,202.7 416.7,203.0C417.6,203.2 418.7,206.9 419.7,208.9C420.7,210.9 421.6,213.5 422.6,214.9C423.6,216.2 424.7,216.6 425.6,217.1C426.5,217.6 427.0,218.9 427.8,217.8C428.7,216.7 429.8,212.3 430.8,210.4C431.8,208.6 432.9,206.9 433.8,206.7C434.6,206.5 435.4,207.3 436.0,208.9C436.6,210.5 436.6,213.2 437.5,216.3C438.3,219.5 440.2,226.1 441.2,227.6C442.2,229.1 442.6,226.5 443.4,225.4C444.1,224.3 444.9,220.4 445.6,220.9C446.4,221.4 447.0,225.1 447.8,228.3C448.7,231.6 449.9,237.4 450.8,240.2C451.7,243.0 452.2,244.7 453.0,245.4C453.9,246.1 455.0,243.7 456.0,244.7C457.0,245.6 458.1,251.0 459.0,251.3C459.8,251.7 460.4,248.1 461.2,246.9C461.9,245.6 462.5,244.4 463.4,243.9C464.3,243.4 465.4,245.1 466.4,243.9C467.4,242.7 468.3,236.4 469.3,236.5C470.3,236.6 471.6,242.2 472.3,244.7C473.0,247.1 473.0,251.3 473.8,251.3C474.5,251.3 475.8,248.5 476.7,244.7C477.7,240.8 478.8,231.7 479.7,228.3C480.6,225.0 481.3,224.3 482.0,224.3C482.7,224.3 483.3,228.2 484.1,228.3C484.9,228.4 486.0,225.3 486.8,225.0C487.6,224.7 488.0,224.6 488.8,226.3C489.6,228.0 490.7,233.4 491.5,235.1C492.3,236.8 492.9,236.5 493.6,236.5C494.3,236.5 495.0,235.0 495.6,235.1C496.2,235.2 496.4,239.1 497.0,237.2C497.6,235.3 498.3,227.7 499.0,223.6C499.7,219.5 500.5,214.6 501.1,212.7C501.7,210.8 501.8,210.4 502.4,212.0C503.0,213.6 503.8,220.0 504.5,222.2C505.2,224.4 505.8,223.2 506.5,225.0C507.2,226.8 507.8,229.9 508.5,233.1C509.2,236.3 509.9,240.4 510.6,244.0C511.3,247.6 512.1,250.8 512.6,254.8C513.1,258.8 513.4,263.8 513.7,268.0C514.0,272.2 514.1,279.3 514.5,280.0C514.9,280.7 515.5,274.9 516.0,272.0C516.5,269.1 517.2,264.5 517.8,262.4C518.3,260.3 518.8,258.9 519.3,259.4C519.8,259.9 520.3,262.9 520.8,265.4C521.3,267.9 521.9,272.3 522.3,274.3C522.7,276.3 522.6,277.2 523.0,277.2C523.4,277.1 524.0,276.2 524.5,274.0C525.0,271.8 525.6,268.2 526.0,263.9C526.4,259.6 526.4,253.1 526.9,248.0C527.4,242.9 528.2,237.8 528.9,233.1C529.6,228.3 530.4,223.3 531.0,219.5C531.6,215.7 531.6,212.8 532.3,210.0C532.9,207.2 534.1,203.7 534.9,203.0C535.7,202.3 536.3,203.5 537.1,206.0C537.9,208.5 538.8,214.8 539.5,218.2C540.2,221.6 540.8,224.3 541.5,226.3C542.2,228.3 542.9,228.5 543.6,230.4C544.3,232.3 544.9,236.4 545.6,237.9C546.3,239.4 547.0,239.5 547.7,239.2C548.4,238.8 549.0,237.5 549.7,235.8C550.4,234.1 551.0,230.8 551.7,229.0C552.4,227.2 553.1,226.8 553.8,225.0C554.5,223.2 555.2,220.4 555.8,218.2C556.4,215.9 556.8,212.3 557.5,211.5C558.2,210.7 559.1,212.6 560.0,213.4C560.9,214.2 561.7,215.7 562.6,216.1C563.5,216.5 564.4,215.1 565.3,216.1C566.2,217.1 567.1,219.8 568.0,222.2C568.9,224.6 569.9,227.2 570.8,230.4C571.7,233.6 572.7,238.1 573.5,241.3C574.3,244.5 574.9,246.5 575.5,249.4C576.1,252.3 576.7,257.9 577.3,258.5C577.9,259.1 578.3,257.5 578.9,252.8C579.5,248.1 580.3,236.4 581.0,230.4C581.7,224.4 582.4,219.8 583.0,216.8C583.6,213.8 583.9,212.6 584.5,212.6C585.1,212.6 585.8,213.8 586.4,216.8C587.0,219.8 587.8,225.9 588.4,230.4C589.0,234.9 589.5,238.0 590.0,244.0C590.5,250.0 591.1,262.0 591.5,266.4C591.9,270.8 591.9,271.8 592.4,270.4C592.9,269.0 594.1,262.2 594.8,258.3C595.5,254.4 596.0,251.3 596.7,247.0C597.4,242.7 598.2,237.1 598.9,232.2C599.6,227.3 600.5,221.1 601.1,217.4C601.7,213.7 602.2,211.9 602.6,210.0C603.0,208.1 603.2,205.4 603.6,205.7C604.0,206.0 604.6,208.6 605.2,212.0C605.8,215.4 606.6,222.0 607.2,226.0C607.9,230.0 608.5,235.9 609.1,236.2C609.7,236.5 610.3,230.9 611.0,228.0C611.7,225.1 612.5,220.3 613.1,218.5C613.7,216.7 614.2,217.0 614.7,216.9C615.2,216.8 615.8,216.4 616.3,217.7C616.8,219.0 617.4,221.9 617.9,224.9C618.4,227.9 618.9,233.5 619.3,235.5C619.7,237.5 619.8,238.2 620.2,237.0C620.6,235.8 621.4,230.5 621.9,228.6C622.4,226.7 622.8,224.9 623.3,225.6C623.8,226.2 624.5,228.4 624.9,232.5C625.3,236.6 625.6,244.1 625.9,250.0C626.2,255.9 626.5,263.1 626.8,268.0C627.1,272.9 627.2,279.5 627.5,279.5C627.8,279.5 628.0,272.9 628.3,268.0C628.6,263.1 628.7,256.2 629.1,250.0C629.5,243.8 630.0,236.2 630.6,230.6C631.2,225.0 632.1,220.5 632.8,216.7C633.5,212.9 634.0,207.6 634.6,207.6C635.2,207.6 635.8,212.9 636.3,216.7C636.8,220.5 637.1,227.3 637.7,230.6C638.3,233.9 639.0,234.2 639.7,236.5C640.4,238.8 641.1,240.9 641.7,244.4C642.3,247.9 643.0,253.9 643.5,257.5C644.0,261.1 644.1,266.4 644.5,265.8C644.9,265.2 645.3,257.9 645.6,254.0C645.9,250.1 646.1,247.5 646.4,242.4C646.7,237.3 647.2,225.3 647.6,223.7C648.0,222.0 648.5,231.4 649.0,232.5C649.5,233.6 650.1,229.8 650.6,230.0C651.1,230.2 651.7,233.9 652.2,233.5C652.7,233.1 653.1,229.4 653.5,227.6C653.9,225.8 654.6,223.3 654.8,222.5" stroke="#be0000" stroke-width="2"/>
<path d="M40.7,174.8C41.6,175.7 44.2,178.5 45.9,180.0C47.7,181.5 49.4,183.0 51.1,183.7C52.8,184.5 54.5,184.0 56.3,184.5C58.2,184.9 60.6,185.6 62.2,186.2C63.8,186.9 64.5,186.7 65.9,188.2C67.4,189.6 69.5,193.2 71.1,194.8C72.7,196.5 74.2,197.5 75.6,198.3C76.9,199.0 78.1,199.4 79.3,199.3C80.5,199.2 81.4,199.0 83.0,197.8C84.6,196.6 86.9,193.6 88.9,191.9C90.9,190.2 92.9,188.4 94.9,187.7C96.8,187.1 99.1,188.0 100.8,187.9C102.5,187.7 103.8,187.1 105.2,186.7C106.7,186.2 108.2,185.2 109.7,185.2C111.2,185.2 112.4,186.3 114.1,186.7C115.9,187.1 118.2,187.4 120.1,187.7C121.9,188.1 123.8,187.4 125.2,188.9C126.7,190.5 127.8,194.0 129.0,197.1C130.1,200.2 130.9,205.1 131.9,207.4C132.9,209.8 133.4,210.8 134.9,211.1C136.4,211.5 138.3,210.3 140.8,209.7C143.3,209.0 147.8,207.9 149.7,207.1C151.6,206.4 151.3,205.9 152.2,205.2C153.1,204.5 154.2,203.2 155.2,203.0C156.2,202.7 157.2,203.6 158.2,203.7C159.1,203.9 160.1,204.1 161.1,203.7C162.1,203.4 163.0,202.3 164.1,201.5C165.2,200.8 166.6,199.5 167.8,199.3C169.0,199.1 170.3,199.7 171.5,200.3C172.7,200.9 174.0,202.3 175.2,203.0C176.4,203.7 177.8,204.5 178.9,204.5C180.0,204.5 180.8,203.7 181.9,203.0C183.0,202.3 184.2,200.7 185.6,200.0C186.9,199.4 188.5,199.1 190.0,199.0C191.5,198.9 193.0,199.1 194.5,199.3C196.0,199.5 197.4,199.6 198.9,200.0C200.4,200.4 201.6,201.2 203.4,201.8C205.1,202.4 207.6,203.8 209.3,203.7C211.0,203.7 212.0,202.3 213.8,201.5C215.5,200.8 218.0,199.3 219.7,199.3C221.4,199.3 222.4,200.8 224.1,201.5C225.9,202.2 228.1,202.6 230.1,203.3C232.0,204.0 234.0,205.4 236.0,206.0C238.0,206.5 240.2,206.3 241.9,206.7C243.6,207.1 244.9,207.8 246.4,208.2C247.9,208.6 249.6,208.4 250.8,208.9C252.1,209.4 252.8,211.3 253.8,211.1C254.7,211.0 255.7,208.4 256.5,208.3C257.3,208.2 257.9,209.0 258.6,210.6C259.3,212.3 259.8,215.0 260.6,218.1C261.4,221.2 262.5,228.7 263.3,229.0C264.1,229.2 264.7,224.0 265.4,219.5C266.1,214.9 266.7,205.2 267.4,201.8C268.1,198.4 268.7,199.5 269.5,199.1C270.2,198.7 271.0,199.7 271.9,199.3C272.8,198.8 273.8,199.2 274.8,196.3C275.8,193.5 276.8,185.8 277.8,182.2C278.8,178.7 279.9,175.3 280.8,174.8C281.6,174.3 282.2,176.3 283.0,179.3C283.7,182.2 284.6,188.8 285.2,192.6C285.8,196.4 285.9,200.4 286.7,202.3C287.4,204.1 288.4,203.4 289.7,203.7C290.9,204.1 292.6,204.6 294.1,204.5C295.6,204.4 297.2,203.5 298.5,203.3C299.9,203.0 301.3,203.8 302.3,203.0C303.2,202.2 303.7,200.0 304.5,198.5C305.2,197.1 306.0,194.6 306.7,194.1C307.4,193.6 308.1,194.8 308.9,195.6C309.8,196.4 310.7,198.1 311.9,198.8C313.1,199.6 314.9,200.1 316.3,200.3C317.8,200.5 319.3,200.3 320.8,200.0C322.3,199.8 323.8,198.9 325.2,198.8C326.7,198.8 328.2,199.7 329.7,199.7C331.2,199.7 332.9,198.7 334.1,198.8C335.4,198.9 335.9,200.3 337.1,200.3C338.3,200.4 340.1,199.2 341.5,199.3C343.0,199.4 344.5,200.4 346.0,200.8C347.5,201.2 349.0,201.5 350.4,201.8C351.9,202.1 353.3,203.0 354.9,202.7C356.5,202.4 358.3,200.1 360.1,200.0C361.8,200.0 363.6,201.6 365.3,202.3C366.9,202.9 368.7,203.9 370.0,203.7C371.3,203.6 371.7,202.1 373.0,201.5C374.2,200.9 375.9,200.1 377.4,200.0C378.9,200.0 380.4,201.2 381.9,201.2C383.3,201.2 384.8,200.1 386.3,200.0C387.8,200.0 389.5,201.3 390.8,200.8C392.0,200.3 392.7,198.3 393.7,197.1C394.7,195.8 395.7,194.5 396.7,193.4C397.7,192.2 398.7,190.4 399.7,190.4C400.6,190.4 401.4,192.6 402.6,193.4C403.9,194.1 405.6,194.4 407.1,194.8C408.5,195.3 410.3,196.1 411.5,195.9C412.7,195.7 413.6,194.5 414.5,193.8C415.3,193.1 415.7,191.9 416.7,191.9C417.7,191.9 419.0,193.3 420.4,193.8C421.8,194.3 423.4,194.7 424.9,194.8C426.3,195.0 427.7,195.3 429.3,194.8C430.9,194.3 433.0,192.1 434.5,191.9C436.0,191.6 436.8,192.9 438.2,193.4C439.6,193.9 440.9,194.5 442.6,194.8C444.4,195.2 446.8,195.4 448.6,195.3C450.3,195.2 451.5,194.6 453.0,194.4C454.5,194.1 456.0,193.8 457.5,193.8C459.0,193.8 460.4,194.3 461.9,194.4C463.4,194.4 464.9,194.3 466.4,194.1C467.9,193.9 469.3,193.2 470.8,192.9C472.3,192.6 473.7,192.5 475.3,192.3C476.8,192.1 478.7,192.2 480.0,191.9C481.3,191.6 481.9,190.3 483.0,190.4C484.1,190.5 485.4,192.2 486.7,192.3C487.9,192.4 489.1,191.2 490.4,191.1C491.6,191.1 492.8,191.9 494.1,191.9C495.3,191.8 496.4,190.8 497.8,190.7C499.1,190.6 500.8,191.1 502.2,191.1C503.7,191.2 505.6,191.0 506.7,191.1C507.8,191.3 508.0,192.1 508.9,191.9C509.8,191.6 510.8,189.4 511.9,189.7C513.0,189.9 514.5,192.6 515.6,193.4C516.7,194.1 517.6,194.5 518.5,194.1C519.5,193.7 520.5,191.5 521.5,191.1C522.5,190.8 523.2,192.1 524.5,191.9C525.7,191.6 527.6,190.1 528.9,189.7C530.3,189.2 531.4,188.9 532.6,188.9C533.9,188.9 535.0,189.4 536.3,189.7C537.7,189.9 539.6,190.4 540.8,190.4C542.0,190.4 542.5,189.5 543.8,189.7C545.0,189.8 546.7,190.8 548.2,191.1C549.7,191.5 551.2,191.6 552.6,191.9C554.1,192.1 555.9,192.7 557.1,192.6C558.3,192.5 559.1,191.3 560.1,191.1C561.0,191.0 562.2,191.9 563.0,191.9C563.9,191.9 564.6,190.8 565.2,191.1C565.9,191.5 566.1,194.0 566.7,194.1C567.3,194.2 568.3,192.8 569.0,191.9C569.6,191.0 569.7,189.1 570.4,188.6C571.2,188.1 572.2,188.6 573.4,188.9C574.6,189.2 576.4,190.6 577.9,190.4C579.3,190.1 581.2,187.7 582.3,187.4C583.4,187.2 583.8,187.8 584.5,188.9C585.3,190.0 585.8,193.4 586.7,194.1C587.7,194.8 589.1,193.0 590.0,193.4C590.9,193.7 591.5,196.1 592.2,196.0C592.9,195.9 593.8,193.7 594.5,193.0C595.2,192.3 595.9,191.5 596.6,191.6C597.3,191.7 598.0,193.6 598.7,193.8C599.4,194.0 600.2,193.0 601.0,192.8C601.8,192.6 602.8,191.7 603.5,192.8C604.2,193.9 604.6,197.0 605.1,199.3C605.6,201.6 606.2,204.6 606.7,206.5C607.2,208.4 607.6,210.4 608.3,210.5C609.0,210.6 610.0,208.1 610.7,207.3C611.4,206.5 612.1,204.9 612.6,205.7C613.1,206.5 613.5,210.2 613.9,212.1C614.2,214.0 614.3,216.0 614.7,216.9C615.1,217.8 615.8,216.4 616.3,217.7C616.8,219.0 617.4,221.9 617.9,224.9C618.4,227.9 618.9,233.5 619.3,235.5C619.7,237.5 619.8,238.2 620.2,237.0C620.6,235.8 621.4,230.5 621.9,228.6C622.4,226.7 622.8,224.9 623.3,225.6C623.8,226.2 624.5,228.4 624.9,232.5C625.3,236.6 625.6,244.1 625.9,250.0C626.2,255.9 626.5,263.1 626.8,268.0C627.1,272.9 627.2,279.5 627.5,279.5C627.8,279.5 628.0,272.9 628.3,268.0C628.6,263.1 628.7,256.2 629.1,250.0C629.5,243.8 630.0,236.2 630.6,230.6C631.2,225.0 632.1,220.5 632.8,216.7C633.5,212.9 634.0,207.6 634.6,207.6C635.2,207.6 635.8,212.9 636.3,216.7C636.8,220.5 637.1,227.3 637.7,230.6C638.3,233.9 639.0,234.2 639.7,236.5C640.4,238.8 641.1,240.9 641.7,244.4C642.3,247.9 643.0,253.9 643.5,257.5C644.0,261.1 644.1,266.4 644.5,265.8C644.9,265.2 645.3,257.9 645.6,254.0C645.9,250.1 646.1,247.5 646.4,242.4C646.7,237.3 647.2,225.3 647.6,223.7C648.0,222.0 648.5,231.4 649.0,232.5C649.5,233.6 650.1,229.8 650.6,230.0C651.1,230.2 651.7,233.9 652.2,233.5C652.7,233.1 653.1,229.2 653.5,227.6C653.9,226.0 654.3,224.3 654.5,223.7" stroke="#3c3c3c" stroke-width="2"/>
</g>
<rect x="41" y="73.7" width="682" height="2.4" fill="#8e4210"/>
<text x="381.8" y="50.1" text-anchor="middle" font-family="Liberation Sans, sans-serif" font-weight="bold" font-size="23.4" letter-spacing="0.35" fill="#404040" stroke="#fff" stroke-width="4" paint-order="stroke">Distorsion</text>
<text transform="translate(38.9,23.9) scale(0.9,1)" text-anchor="end" font-family="Liberation Sans, sans-serif" font-size="12" fill="#2a2a2a">1,000</text>
<text transform="translate(38.9,62.9) scale(0.9,1)" text-anchor="end" font-family="Liberation Sans, sans-serif" font-size="12" fill="#2a2a2a">200</text>
<text transform="translate(38.9,95.9) scale(0.9,1)" text-anchor="end" font-family="Liberation Sans, sans-serif" font-size="12" fill="#2a2a2a">50</text>
<text transform="translate(38.9,118.9) scale(0.9,1)" text-anchor="end" font-family="Liberation Sans, sans-serif" font-size="12" fill="#2a2a2a">20</text>
<text transform="translate(38.9,151.9) scale(0.9,1)" text-anchor="end" font-family="Liberation Sans, sans-serif" font-size="12" fill="#2a2a2a">5.0</text>
<text transform="translate(38.9,173.9) scale(0.9,1)" text-anchor="end" font-family="Liberation Sans, sans-serif" font-size="12" fill="#2a2a2a">2.0</text>
<text transform="translate(38.9,207.9) scale(0.9,1)" text-anchor="end" font-family="Liberation Sans, sans-serif" font-size="12" fill="#2a2a2a">0.50</text>
<text transform="translate(38.9,229.9) scale(0.9,1)" text-anchor="end" font-family="Liberation Sans, sans-serif" font-size="12" fill="#2a2a2a">0.20</text>
<text transform="translate(38.9,262.9) scale(0.9,1)" text-anchor="end" font-family="Liberation Sans, sans-serif" font-size="12" fill="#2a2a2a">0.050</text>
<text transform="translate(38.9,285.9) scale(0.9,1)" text-anchor="end" font-family="Liberation Sans, sans-serif" font-size="12" fill="#2a2a2a">0.020</text>
<text x="38.5" y="13" text-anchor="end" font-family="Liberation Sans, sans-serif" font-size="12" fill="#2a2a2a">%</text>
<text transform="translate(41.5,328) scale(0.9,1)" text-anchor="middle" font-family="Liberation Sans, sans-serif" font-size="12" fill="#2a2a2a">20</text>
<text transform="translate(81.6,328) scale(0.9,1)" text-anchor="middle" font-family="Liberation Sans, sans-serif" font-size="12" fill="#2a2a2a">30</text>
<text transform="translate(110.0,328) scale(0.9,1)" text-anchor="middle" font-family="Liberation Sans, sans-serif" font-size="12" fill="#2a2a2a">40</text>
<text transform="translate(132.1,328) scale(0.9,1)" text-anchor="middle" font-family="Liberation Sans, sans-serif" font-size="12" fill="#2a2a2a">50</text>
<text transform="translate(150.1,328) scale(0.9,1)" text-anchor="middle" font-family="Liberation Sans, sans-serif" font-size="12" fill="#2a2a2a">60</text>
<text transform="translate(178.6,328) scale(0.9,1)" text-anchor="middle" font-family="Liberation Sans, sans-serif" font-size="12" fill="#2a2a2a">80</text>
<text transform="translate(200.6,328) scale(0.9,1)" text-anchor="middle" font-family="Liberation Sans, sans-serif" font-size="12" fill="#2a2a2a">100</text>
<text transform="translate(269.2,328) scale(0.9,1)" text-anchor="middle" font-family="Liberation Sans, sans-serif" font-size="12" fill="#2a2a2a">200</text>
<text transform="translate(309.3,328) scale(0.9,1)" text-anchor="middle" font-family="Liberation Sans, sans-serif" font-size="12" fill="#2a2a2a">300</text>
<text transform="translate(337.7,328) scale(0.9,1)" text-anchor="middle" font-family="Liberation Sans, sans-serif" font-size="12" fill="#2a2a2a">400</text>
<text transform="translate(377.8,328) scale(0.9,1)" text-anchor="middle" font-family="Liberation Sans, sans-serif" font-size="12" fill="#2a2a2a">600</text>
<text transform="translate(406.2,328) scale(0.9,1)" text-anchor="middle" font-family="Liberation Sans, sans-serif" font-size="12" fill="#2a2a2a">800</text>
<text transform="translate(428.3,328) scale(0.9,1)" text-anchor="middle" font-family="Liberation Sans, sans-serif" font-size="12" fill="#2a2a2a">1k</text>
<text transform="translate(496.8,328) scale(0.9,1)" text-anchor="middle" font-family="Liberation Sans, sans-serif" font-size="12" fill="#2a2a2a">2k</text>
<text transform="translate(536.9,328) scale(0.9,1)" text-anchor="middle" font-family="Liberation Sans, sans-serif" font-size="12" fill="#2a2a2a">3k</text>
<text transform="translate(565.4,328) scale(0.9,1)" text-anchor="middle" font-family="Liberation Sans, sans-serif" font-size="12" fill="#2a2a2a">4k</text>
<text transform="translate(587.4,328) scale(0.9,1)" text-anchor="middle" font-family="Liberation Sans, sans-serif" font-size="12" fill="#2a2a2a">5k</text>
<text transform="translate(605.5,328) scale(0.9,1)" text-anchor="middle" font-family="Liberation Sans, sans-serif" font-size="12" fill="#2a2a2a">6k</text>
<text transform="translate(633.9,328) scale(0.9,1)" text-anchor="middle" font-family="Liberation Sans, sans-serif" font-size="12" fill="#2a2a2a">8k</text>
<text transform="translate(656.0,328) scale(0.9,1)" text-anchor="middle" font-family="Liberation Sans, sans-serif" font-size="12" fill="#2a2a2a">10k</text>
<text transform="translate(740.2,328) scale(0.95,1)" text-anchor="end" font-family="Liberation Sans, sans-serif" font-size="12" fill="#2a2a2a">20kHz</text>
<text x="5" y="351" font-family="Liberation Sans, sans-serif" font-size="12" fill="#a0461e">Fundamental</text>
<rect x="166" y="346" width="51" height="2" fill="#8c3c0a"/>
<text x="5" y="372" font-family="Liberation Sans, sans-serif" font-size="12" fill="#eb9614">3rd Harmonic</text>
<rect x="166" y="367" width="51" height="2" fill="#e69600"/>
<text x="5" y="393" font-family="Liberation Sans, sans-serif" font-size="12" fill="#1e8c28">5th Harmonic</text>
<rect x="166" y="388" width="51" height="2" fill="#1e8c1e"/>
<text x="256" y="351" font-family="Liberation Sans, sans-serif" font-size="12" fill="#c8001e">2nd Harmonic</text>
<rect x="417" y="346" width="51" height="2" fill="#be0000"/>
<text x="256" y="372" font-family="Liberation Sans, sans-serif" font-size="12" fill="#e6be14">4th Harmonic</text>
<rect x="417" y="367" width="51" height="2" fill="#e6be00"/>
<text x="256" y="389.6" font-family="Liberation Sans, sans-serif" font-size="12" fill="#333">THD<tspan font-size="9" dy="4.4">H2..9</tspan></text>
<rect x="417" y="388" width="51" height="2" fill="#3c3c3c"/>
<rect x="0.5" y="0.5" width="742" height="404" fill="none" stroke="#707070" stroke-width="1"/>
</svg>
</body></html>
